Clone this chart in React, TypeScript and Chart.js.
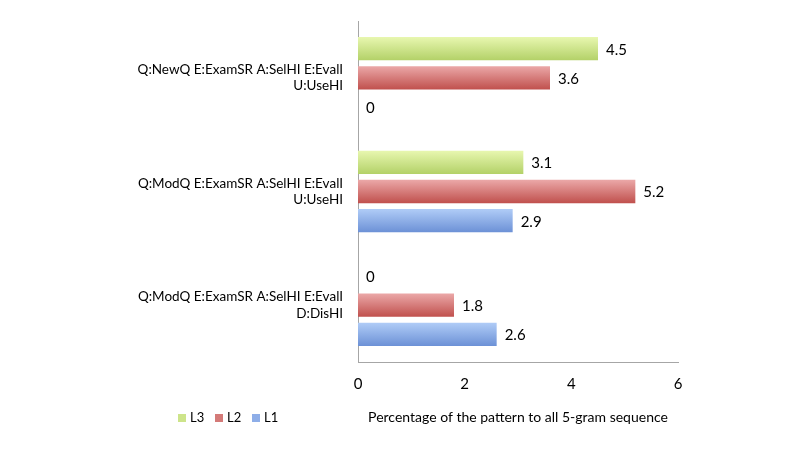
import React, { useEffect, useRef } from "react";
import { Chart, registerables } from "chart.js";

Chart.register(...registerables);

const categories: string[][] = [
  ["Q:NewQ E:ExamSR A:SelHI E:EvalI", "U:UseHI"],
  ["Q:ModQ E:ExamSR A:SelHI E:EvalI", "U:UseHI"],
  ["Q:ModQ E:ExamSR A:SelHI E:EvalI", "D:DisHI"],
];
const seriesLabels = ["L3", "L2", "L1"];
const l3Values = [4.5, 3.1, 0];
const l2Values = [3.6, 5.2, 1.8];
const l1Values = [0, 2.9, 2.6];
const xTicks = [0, 2, 4, 6];
const axisTitle = "Percentage of the pattern to all 5-gram sequence";

const FONT = "Lato, 'Open Sans', sans-serif";
const gradStops: [string, string][] = [
  ["#e8f7b0", "#b3d168"],
  ["#eba8a8", "#c0504d"],
  ["#b0ccf7", "#6c91d6"],
];
const solid = ["#cde48a", "#d47a78", "#8eaee8"];

const gradientPlugin = {
  id: "barGradient",
  beforeDatasetsDraw(chart: any) {
    const ctx = chart.ctx;
    chart.data.datasets.forEach((_: any, di: number) => {
      const meta = chart.getDatasetMeta(di);
      meta.data.forEach((el: any) => {
        const h = el.height;
        const g = ctx.createLinearGradient(0, el.y - h / 2, 0, el.y + h / 2);
        g.addColorStop(0, gradStops[di][0]);
        g.addColorStop(1, gradStops[di][1]);
        el.options = Object.assign({}, el.options, { backgroundColor: g });
      });
    });
  },
};

const labelPlugin = {
  id: "valueLabels",
  afterDatasetsDraw(chart: any) {
    const ctx = chart.ctx;
    ctx.save();
    ctx.font = `15px ${FONT}`;
    ctx.fillStyle = "#000";
    ctx.textAlign = "left";
    ctx.textBaseline = "middle";
    chart.data.datasets.forEach((ds: any, di: number) => {
      const meta = chart.getDatasetMeta(di);
      meta.data.forEach((el: any, i: number) => {
        ctx.fillText(String(ds.data[i]), el.x + 8, el.y + 1);
      });
    });
    ctx.restore();
  },
};

const legendPlugin = {
  id: "customLegend",
  afterDraw(chart: any) {
    const ctx = chart.ctx;
    ctx.save();
    ctx.font = `13px ${FONT}`;
    ctx.textBaseline = "middle";
    ctx.textAlign = "left";
    const y = 418;
    let x = 178;
    chart.data.datasets.forEach((ds: any, di: number) => {
      ctx.fillStyle = solid[di];
      ctx.fillRect(x, y - 4, 8, 8);
      ctx.fillStyle = "#000";
      ctx.fillText(ds.label, x + 12, y);
      x += 37;
    });
    ctx.restore();
  },
};

export default function App() {
  const ref = useRef<HTMLCanvasElement>(null);
  useEffect(() => {
    document.body.style.margin = "0";
    const datasets = [l3Values, l2Values, l1Values].map((d, i) => ({
      label: seriesLabels[i],
      data: d,
      backgroundColor: solid[i],
      categoryPercentage: 0.77,
      barPercentage: 0.8,
    }));
    const chart = new Chart(ref.current!, {
      type: "bar",
      data: { labels: categories, datasets },
      options: {
        indexAxis: "y",
        animation: false,
        responsive: false,
        layout: { padding: { top: 21, right: 122, left: 0, bottom: 0 } },
        plugins: { legend: { display: false }, tooltip: { enabled: false } },
        scales: {
          x: {
            min: 0,
            max: 6,
            afterBuildTicks: (s: any) => {
              s.ticks = xTicks.map((v) => ({ value: v }));
            },
            afterFit: (s: any) => {
              s.height = 88;
              s.paddingLeft = 0;
              s.paddingRight = 0;
            },
            grid: { display: false, drawTicks: false },
            border: { display: true, color: "#a6a6a6", width: 1 },
            ticks: { font: { size: 15, family: FONT }, color: "#000", padding: 13 },
            title: {
              display: true,
              text: axisTitle,
              font: { size: 14, family: FONT },
              color: "#000",
              padding: { top: 0, bottom: 24 },
            },
          },
          y: {
            afterFit: (s: any) => {
              s.width = 358;
              s.paddingTop = 0;
              s.paddingBottom = 0;
            },
            grid: { display: false, drawTicks: false },
            border: { display: true, color: "#a6a6a6", width: 1 },
            ticks: { font: { size: 13.5, family: FONT }, color: "#000", padding: 15 },
          },
        },
      },
      plugins: [gradientPlugin, labelPlugin, legendPlugin],
    });
    return () => chart.destroy();
  }, []);
  return (
    <div style={{ width: 800, height: 450 }}>
      <canvas ref={ref} width={800} height={450} style={{ width: 800, height: 450 }} />
    </div>
  );
}
